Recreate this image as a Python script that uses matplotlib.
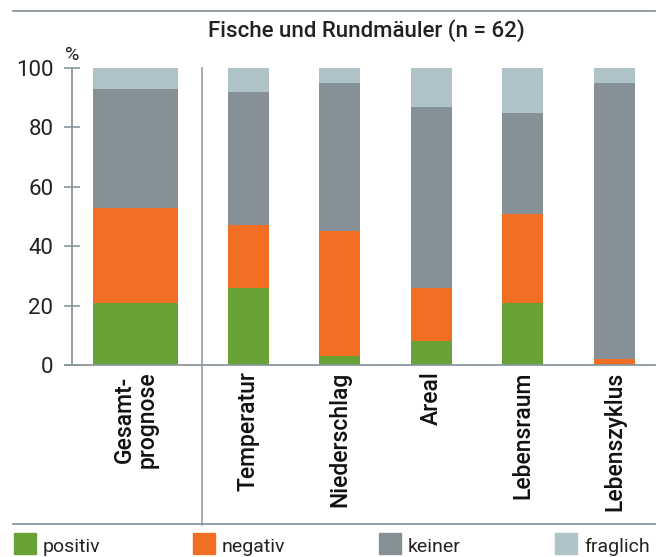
import matplotlib.pyplot as plt
from matplotlib.lines import Line2D
from matplotlib.patches import Rectangle
import numpy as np

plt.rcParams['font.family'] = ['Roboto', 'DejaVu Sans']

# data (percent of species)
categories = ['Gesamt-\nprognose', 'Temperatur', 'Niederschlag', 'Areal', 'Lebensraum', 'Lebenszyklus']
positiv = np.array([21, 26, 3, 8, 21, 0])
negativ = np.array([32, 21, 42, 18, 30, 2])
keiner = np.array([40, 45, 50, 61, 34, 93])
fraglich = np.array([7, 8, 5, 13, 15, 5])
series_names = ['positiv', 'negativ', 'keiner', 'fraglich']
colors = ['#68a235', '#f26e22', '#859196', '#b0c3c9']
title = 'Fische und Rundmäuler (n = 62)'
yticks = [0, 20, 40, 60, 80, 100]

axcol = '#8a979d'
W, H = 660, 557
fig = plt.figure(figsize=(W / 100, H / 100), dpi=100)
ax = fig.add_axes([72 / W, 192 / H, 583 / W, 297 / H])

xpos = [0.694, 1.929, 2.929, 3.929, 4.929, 5.929]
widths = [0.93, 0.448, 0.448, 0.448, 0.448, 0.448]
bottom = np.zeros(len(categories))
for vals, c in zip([positiv, negativ, keiner, fraglich], colors):
    ax.bar(xpos, vals, width=widths, bottom=bottom, color=c, linewidth=0, zorder=2)
    bottom += vals

ax.set_xlim(0, 6.372)
ax.set_ylim(0, 100)
for s in ['top', 'right']:
    ax.spines[s].set_visible(False)
ax.spines['left'].set_color(axcol)
ax.spines['bottom'].set_color(axcol)
ax.spines['left'].set_linewidth(1.3)
ax.spines['bottom'].set_linewidth(1.3)
ax.set_yticks(yticks)
ax.tick_params(axis='y', direction='inout', length=11, width=1.2, color=axcol,
               labelsize=16, labelcolor='#222222', pad=8)
ax.set_xticks([])
# baseline slightly left of axis
ax.plot([-0.08, 0], [0, 0], color=axcol, lw=1.3, clip_on=False)

ax.text(0.0, 101.5, '%', fontsize=14, color='#222222', ha='center', va='bottom')

# separator between overall prognosis and single factors
ax.plot([1.421, 1.421], [100, -54], color=axcol, lw=1.1, clip_on=False, zorder=1)

for x, lab in zip(xpos, categories):
    ax.text(x, -2.2, lab, rotation=90, ha='center', va='top', fontsize=16.5,
            fontweight='medium', color='#111111', linespacing=1.0)

fig.text(366 / W, 1 - 31 / H, title, ha='center', va='center', fontsize=16,
         fontweight='medium', color='#222222')

fig.add_artist(Line2D([13 / W, 655 / W], [1 - 11 / H, 1 - 11 / H], color=axcol, lw=1.3))
fig.add_artist(Line2D([13 / W, 655 / W], [1 - 524 / H, 1 - 524 / H], color=axcol, lw=1.3))

# legend
leg_x = [14, 193, 379, 555]
for lx, name, c in zip(leg_x, series_names, colors):
    fig.add_artist(Rectangle((lx / W, 1 - 554 / H), 22 / W, 21 / H, color=c,
                             transform=fig.transFigure))
    fig.text((lx + 29) / W, 1 - 546.5 / H, name, ha='left', va='center',
             fontsize=14, color='#222222')

plt.savefig('out.png', dpi=100)
